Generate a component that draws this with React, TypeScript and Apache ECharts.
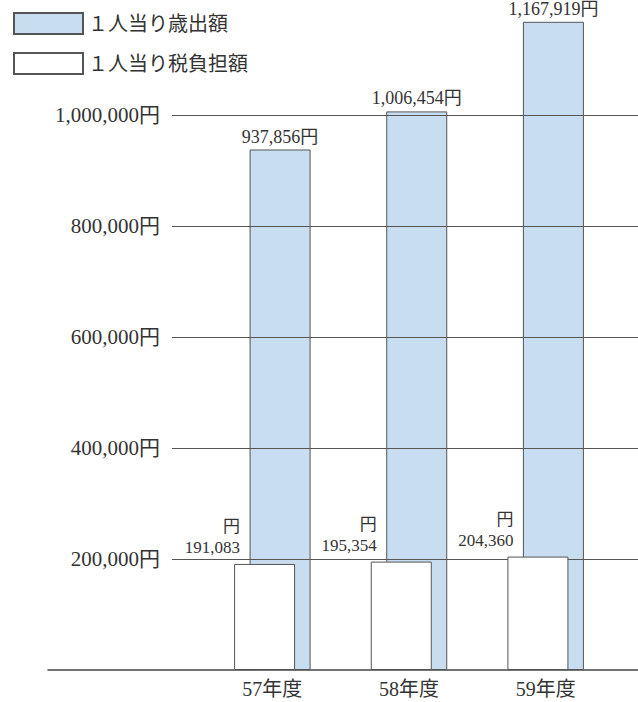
import React, { useEffect, useRef } from "react";
import * as echarts from "echarts";

// Fiscal years (Showa era) shown on the category axis
const categories = ["57年度", "58年度", "59年度"];
// Expenditure per person (円)
const spendingPerCapita = [937856, 1006454, 1167919];
// Tax burden per person (円)
const taxBurdenPerCapita = [191083, 195354, 204360];
// Value axis range and step (円)
const axisMin = 0;
const axisMax = 1200000;
const axisStep = 200000;

const seriesNames = ["１人当り歳出額", "１人当り税負担額"];

const FONT = '"Liberation Serif", "Noto Sans CJK JP", serif';
const INK = "#333333";
const EDGE = "#555555";
const BLUE = "#c9ddf0";

const fmt = (v: number) => v.toLocaleString("en-US");

export default function App() {
  const ref = useRef<HTMLDivElement>(null);

  useEffect(() => {
    if (!ref.current) return;
    const chart = echarts.init(ref.current, undefined, { renderer: "svg" });

    const top = 4;
    const bottom = 32;

    chart.setOption({
      animation: false,
      backgroundColor: "#ffffff",
      textStyle: { fontFamily: FONT, color: INK },
      legend: {
        orient: "vertical",
        left: 8,
        top: 7,
        itemWidth: 69,
        itemHeight: 21,
        itemGap: 17,
        icon: "rect",
        selectedMode: false,
        data: seriesNames,
        textStyle: {
          fontFamily: FONT,
          fontSize: 20,
          color: INK,
        },
      },
      grid: [
        // gridlines + value labels
        { left: 172, right: 0, top, bottom },
        // baseline
        { left: 48, right: 0, top, bottom },
        // bars
        { left: 204, right: 24, top, bottom },
      ],
      xAxis: [
        { gridIndex: 0, type: "value", min: 0, max: 1, show: false },
        {
          gridIndex: 1,
          type: "value",
          min: 0,
          max: 1,
          axisLine: { show: true, lineStyle: { color: "#444444", width: 1.5 } },
          axisTick: { show: false },
          axisLabel: { show: false },
          splitLine: { show: false },
        },
        {
          gridIndex: 2,
          type: "category",
          data: categories,
          axisLine: { show: false },
          axisTick: { show: false },
          axisLabel: {
            fontFamily: FONT,
            fontSize: 20,
            color: INK,
            margin: 9,
          },
        },
      ],
      yAxis: [
        {
          gridIndex: 0,
          type: "value",
          min: axisMin,
          max: axisMax,
          interval: axisStep,
          z: 3,
          axisLine: { show: false },
          axisTick: { show: false },
          axisLabel: {
            fontFamily: FONT,
            fontSize: 21,
            color: INK,
            margin: 12,
            showMinLabel: false,
            showMaxLabel: false,
            formatter: (v: number) => fmt(v) + "円",
          },
          splitLine: {
            show: true,
            showMinLine: false,
            showMaxLine: false,
            lineStyle: { color: EDGE, width: 1 },
          },
        },
        { gridIndex: 1, type: "value", min: axisMin, max: axisMax, show: false },
        { gridIndex: 2, type: "value", min: axisMin, max: axisMax, show: false },
      ],
      series: [
        {
          name: seriesNames[1],
          type: "bar",
          xAxisIndex: 2,
          yAxisIndex: 2,
          data: taxBurdenPerCapita,
          barWidth: 61,
          barGap: "-74.6%",
          z: 4,
          itemStyle: { color: "#ffffff", borderColor: EDGE, borderWidth: 1 },
          label: {
            show: true,
            position: [8, -6],
            align: "right",
            verticalAlign: "bottom",
            fontFamily: FONT,
            fontSize: 17,
            lineHeight: 21,
            color: INK,
            backgroundColor: "#ffffff",
            padding: [0, 2],
            formatter: (p: any) => "円\n" + fmt(p.value),
          },
        },
        {
          name: seriesNames[0],
          type: "bar",
          xAxisIndex: 2,
          yAxisIndex: 2,
          data: spendingPerCapita,
          barWidth: 61,
          barGap: "-74.6%",
          z: 2,
          itemStyle: { color: BLUE, borderColor: EDGE, borderWidth: 1 },
          label: {
            show: true,
            position: "top",
            distance: 4,
            fontFamily: FONT,
            fontSize: 18,
            color: INK,
            backgroundColor: "#ffffff",
            padding: [0, 2],
            formatter: (p: any) => fmt(p.value) + "円",
          },
        },
      ],
    });

    return () => chart.dispose();
  }, []);

  return (
    <div
      ref={ref}
      style={{ position: "fixed", left: 0, top: 0, width: 638, height: 702 }}
    />
  );
}
